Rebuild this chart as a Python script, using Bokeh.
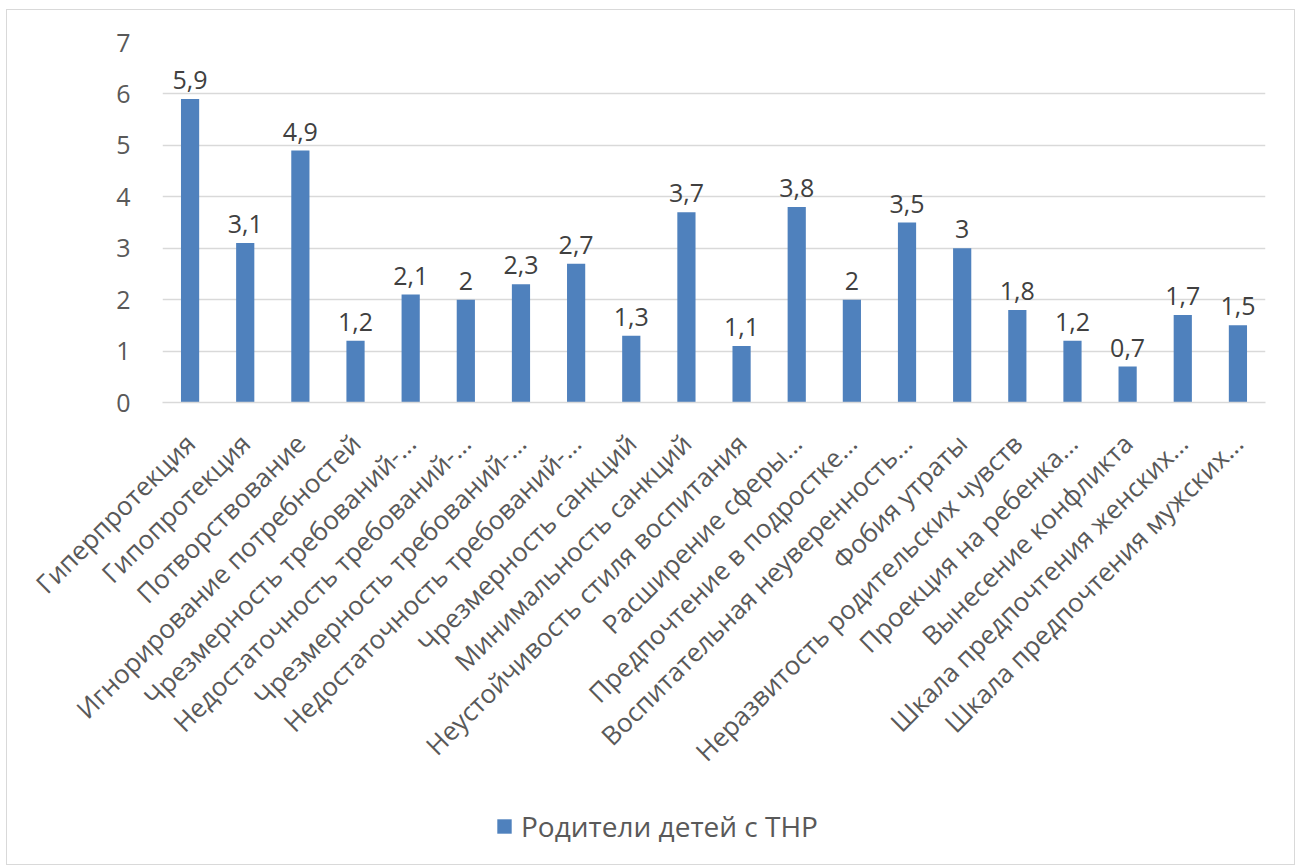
import math
from bokeh.plotting import figure
from bokeh.layouts import column
from bokeh.models import FixedTicker, ColumnDataSource, Legend, LegendItem, Range1d
from bokeh.core.properties import value
from bokeh.embed import file_html
from bokeh.resources import INLINE

categories = [
    "Гиперпротекция",
    "Гипопротекция",
    "Потворствование",
    "Игнорирование потребностей",
    "Чрезмерность требований-...",
    "Недостаточность требований-...",
    "Чрезмерность требований-...",
    "Недостаточность требований-...",
    "Чрезмерность санкций",
    "Минимальность санкций",
    "Неустойчивость стиля воспитания",
    "Расширение сферы...",
    "Предпочтение в подростке...",
    "Воспитательная неуверенность...",
    "Фобия утраты",
    "Неразвитость родительских чувств",
    "Проекция на ребенка...",
    "Вынесение конфликта",
    "Шкала предпочтения женских...",
    "Шкала предпочтения мужских...",
]
values = [5.9, 3.1, 4.9, 1.2, 2.1, 2.0, 2.3, 2.7, 1.3, 3.7,
          1.1, 3.8, 2.0, 3.5, 3.0, 1.8, 1.2, 0.7, 1.7, 1.5]
series_name = "Родители детей с ТНР"
y_ticks = [0, 1, 2, 3, 4, 5, 6, 7]

FONT = "Open Sans"
BLUE = "#4f81bd"
GREY_TXT = "#595959"

xs = list(range(1, len(categories) + 1))
labels = [("%g" % v).replace(".", ",") for v in values]
src = ColumnDataSource(dict(x=xs, top=values, lab=labels))

W = 1287
p = figure(width=W, height=790, output_backend="svg", toolbar_location=None,
           x_range=Range1d(0.5, len(categories) + 0.5), y_range=Range1d(0, 7),
           min_border_left=155, min_border_right=29, min_border_top=32,
           min_border_bottom=398)
p.outline_line_color = None

r = p.vbar(x="x", top="top", width=0.33, source=src, fill_color=BLUE, line_color=None)
p.text(x="x", y="top", text="lab", source=src, y_offset=-19,
       text_align="center", text_baseline="alphabetic",
       text_font=value(FONT), text_font_size="25px", text_color="#404040")

p.xaxis.ticker = FixedTicker(ticks=xs)
p.xaxis.major_label_overrides = {x: c for x, c in zip(xs, categories)}
p.xaxis.major_label_orientation = math.pi / 4
p.xaxis.major_label_text_font = FONT
p.xaxis.major_label_text_font_size = "26px"
p.xaxis.major_label_text_color = GREY_TXT
p.xaxis.major_tick_line_color = None
p.xaxis.minor_tick_line_color = None
p.xaxis.axis_line_color = "#d9d9d9"
p.xaxis.axis_line_width = 1.5
p.xaxis.major_label_standoff = 30

p.yaxis.ticker = FixedTicker(ticks=y_ticks)
p.yaxis.major_label_text_font = FONT
p.yaxis.major_label_text_font_size = "25px"
p.yaxis.major_label_text_color = GREY_TXT
p.yaxis.major_tick_line_color = None
p.yaxis.minor_tick_line_color = None
p.yaxis.axis_line_color = None
p.yaxis.major_label_standoff = 26

p.xgrid.grid_line_color = None
p.ygrid.ticker = FixedTicker(ticks=y_ticks)
p.ygrid.grid_line_color = "#d9d9d9"
p.ygrid.grid_line_width = 1.5

# legend strip below the chart (frame aligned with the main chart's frame)
lf = figure(width=W, height=64, output_backend="svg", toolbar_location=None,
            x_range=Range1d(0, 1), y_range=Range1d(0, 1),
            x_axis_type=None, y_axis_type=None,
            min_border_left=155, min_border_right=29, min_border_top=0,
            min_border_bottom=0)
lf.outline_line_color = None
lf.background_fill_color = None
lf.border_fill_color = None
lf.xgrid.grid_line_color = None
lf.ygrid.grid_line_color = None
# legend-only renderer, placed entirely outside the visible ranges
dummy = lf.vbar(x=[-5], top=[-5], bottom=[-6], width=0.33,
                fill_color=BLUE, line_color=None)
legend = Legend(items=[LegendItem(label=series_name, renderers=[dummy])],
                orientation="horizontal", location=(333, 19),
                label_text_font=FONT, label_text_font_size="28px",
                label_text_color=GREY_TXT, border_line_color=None,
                background_fill_alpha=0,
                glyph_width=18, glyph_height=18, label_standoff=8,
                margin=0, padding=0)
lf.add_layout(legend, "center")

layout = column(p, lf, spacing=0)
layout.styles = {"border": "1px solid #d9d9d9", "margin-left": "6px", "margin-top": "9px"}

open("out.html", "w").write(file_html(layout, INLINE))
